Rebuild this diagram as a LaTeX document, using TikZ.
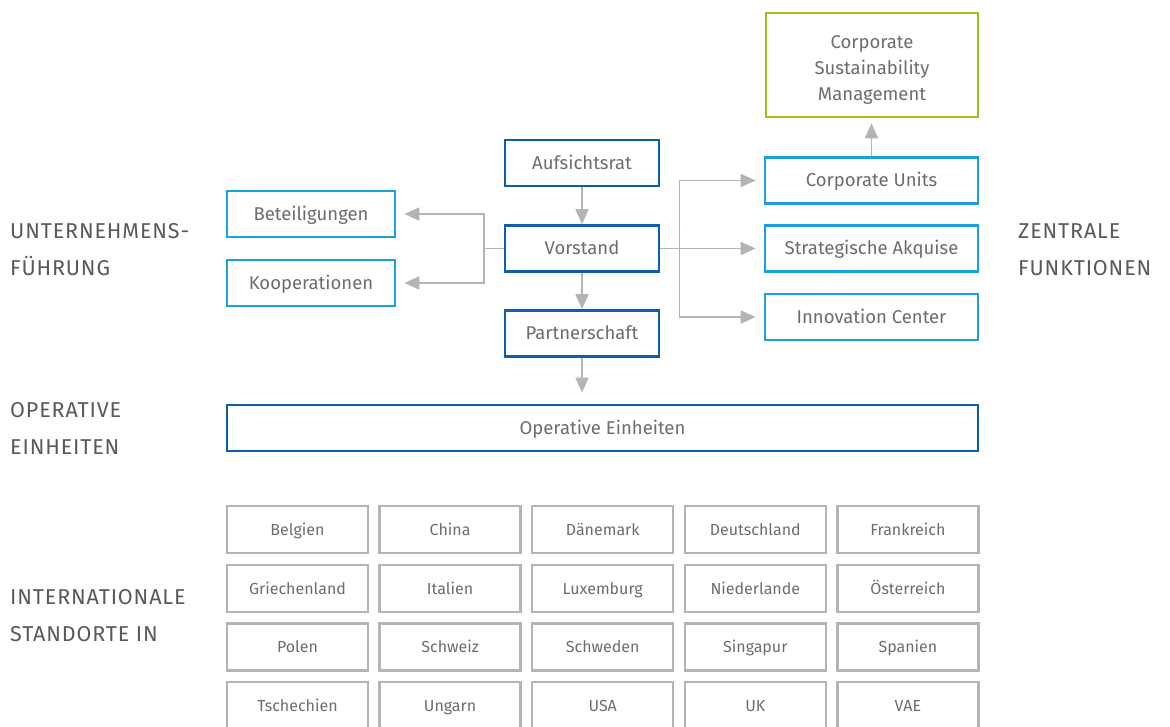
\documentclass[tikz,border=0pt]{standalone}
\usepackage{fontspec}
\setmainfont{Fira Sans}
\newfontfamily\capsfont{Fira Sans}[LetterSpace=4.0]
\usetikzlibrary{arrows.meta, positioning, calc}
\definecolor{cdark}{HTML}{0F5EA8}
\definecolor{clight}{HTML}{1AA0DE}
\definecolor{cgreen}{HTML}{97C11F}
\definecolor{cgrey}{HTML}{B4B4B4}
\definecolor{ctext}{HTML}{6C6D70}
\definecolor{ccaps}{HTML}{58595B}
\tikzset{
  every picture/.style={x=1pt, y=-1pt},
  plain/.style={draw=#1, fill=white, line width=2.6pt, text=ctext, font=\fontsize{18.5}{26}\selectfont, align=center, inner sep=0pt, minimum width=154pt, minimum height=46pt},
  box/.style={plain=#1, text height=15pt, text depth=2pt},
  box/.default=cdark,
  land/.style={draw=cgrey, line width=2.4pt, text=ctext, font=\fontsize{16}{18}\selectfont, text height=13pt, text depth=1pt, minimum width=141pt, minimum height=47pt, inner sep=0pt},
  arrow/.style={-{Triangle[length=15pt, width=13pt]}, draw=cgrey, line width=1.6pt},
  link/.style={draw=cgrey, line width=1.6pt},
  section/.style={anchor=west, text=ccaps, align=left, inner sep=0pt, font=\capsfont\fontsize{21.5}{37}\selectfont},
}

\begin{document}
\begin{tikzpicture}
  \useasboundingbox (0,0) rectangle (1170,727);
  \clip (0,0) rectangle (1170,727);
  % management column
  \node[box] (aufs) at (582,163) {Aufsichtsrat};
  \node[box] (vor) at (582,248.5) {Vorstand};
  \node[box] (part) at (582,333.5) {Partnerschaft};
  % holdings on the left
  \node[box=clight, minimum width=168pt] (bet) at (311,214) {Beteiligungen};
  \node[box=clight, minimum width=168pt] (koop) at (311,283) {Kooperationen};
  % central functions on the right
  \node[plain=cgreen, minimum width=212pt, minimum height=104pt] (csm) at (872,65)
    {\raisebox{-4pt}[\height][\depth]{\begin{tabular}{@{}c@{}}Corporate\\Sustainability\\Management\end{tabular}}};
  \node[box=clight, minimum width=213pt] (cu) at (871.5,180.5) {Corporate Units};
  \node[box=clight, minimum width=213pt] (sa) at (871.5,248.5) {Strategische Akquise};
  \node[box=clight, minimum width=213pt] (ic) at (871.5,317) {Innovation Center};
  % operating units
  \node[box, minimum width=751pt] (op) at (602.5,428) {Operative Einheiten};

  \draw[arrow] (aufs) -- (vor);
  \draw[arrow] (vor) -- (part);
  \draw[arrow, shorten >=11pt] (part) -- (part |- op.north);
  \draw[arrow, shorten >=5pt] (cu) -- (cu |- csm.south);

  % forks from the board
  \coordinate (rj) at ($(vor.east)+(19,0)$);
  \coordinate (lj) at ($(vor.west)+(-20,0)$);
  \draw[link] (vor.east) -- (rj);
  \draw[arrow, shorten >=8pt] (rj) |- (cu.west);
  \draw[arrow, shorten >=8pt] (rj) -- (sa.west);
  \draw[arrow, shorten >=8pt] (rj) |- (ic.west);
  \draw[link] (vor.west) -- (lj);
  \draw[arrow, shorten >=8pt] (lj) |- (bet.east);
  \draw[arrow, shorten >=8pt] (lj) |- (koop.east);

  % locations
  \foreach \land [count=\i from 0] in {Belgien, China, Dänemark, Deutschland, Frankreich,
      Griechenland, Italien, Luxemburg, Niederlande, Österreich,
      Polen, Schweiz, Schweden, Singapur, Spanien,
      Tschechien, Ungarn, USA, UK, VAE} {
    \pgfmathtruncatemacro\col{mod(\i,5)}
    \pgfmathtruncatemacro\row{div(\i,5)}
    \node[land] (land-\i) at (297.5+152.6*\col, 529.5+58.7*\row) {\land};
  }

  % section captions
  \node[section] (s-fuehrung) at (10,249.5) {UNTERNEHMENS-\\FÜHRUNG};
  \node[section] (s-operativ) at (10,428) {OPERATIVE\\EINHEITEN};
  \node[section] (s-standorte) at (10,616) {INTERNATIONALE\\STANDORTE IN};
  \node[section] (s-zentral) at (1018,249.5) {ZENTRALE\\FUNKTIONEN};
\end{tikzpicture}
\end{document}
